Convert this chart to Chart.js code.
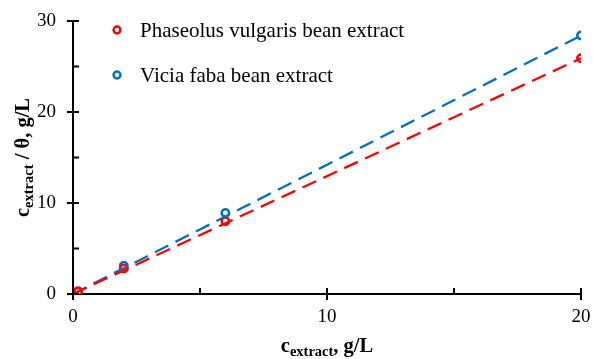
<!DOCTYPE html>
<html lang="en">
<head>
<meta charset="UTF-8">
<title>Sorption isotherm</title>
<script src="https://cdn.jsdelivr.net/npm/chart.js"></script>
<style>
  body { margin: 0; background: #fff; }
  #wrap { width: 593px; height: 359px; position: relative; }
</style>
</head>
<body>
<div id="wrap"><canvas id="myChart"></canvas></div>
<script>
// values
const concX = [0.05, 0.2, 2, 6, 20];
const phaseolusY = [0.05, 0.26, 2.8, 8.0, 25.9];
const viciaY = [0.05, 0.32, 3.1, 8.9, 28.4];
const fitX = [0, 20];
const phaseolusFit = [0, 25.9];
const viciaFit = [0, 28.4];
const xTicks = [0, 10, 20];
const yTicks = [0, 10, 20, 30];
const xMinor = [5, 15];
const yMinor = [5, 15, 25];
const seriesNames = ['Phaseolus vulgaris bean extract', 'Vicia faba bean extract'];

const RED = '#ff0000';
const BLUE = '#0070c0';
const serif = '"Liberation Serif", "Times New Roman", serif';

function pts(xs, ys) {
  return xs.map((x, i) => ({ x: x, y: ys[i] }));
}

// tick marks: majors cross the axis, minors point inward
const tickPlugin = {
  id: 'ticks',
  afterDraw(chart) {
    const ctx = chart.ctx;
    const xs = chart.scales.x, ys = chart.scales.y;
    const x0 = xs.getPixelForValue(0), y0 = ys.getPixelForValue(0);
    ctx.save();
    ctx.strokeStyle = '#000';
    ctx.lineWidth = 2;
    ctx.beginPath();
    yTicks.forEach(v => { const p = ys.getPixelForValue(v); ctx.moveTo(x0 - 6, p); ctx.lineTo(x0 + 6, p); });
    yMinor.forEach(v => { const p = ys.getPixelForValue(v); ctx.moveTo(x0, p); ctx.lineTo(x0 + 6, p); });
    xTicks.forEach(v => { const p = xs.getPixelForValue(v); ctx.moveTo(p, y0 - 6); ctx.lineTo(p, y0 + 6); });
    xMinor.forEach(v => { const p = xs.getPixelForValue(v); ctx.moveTo(p, y0); ctx.lineTo(p, y0 - 6); });
    ctx.stroke();
    ctx.restore();
  }
};

// text with a subscript, drawn from left
function subText(ctx, parts, x, y) {
  let cx = x;
  parts.forEach(p => {
    ctx.font = p.font;
    ctx.fillText(p.t, cx, y + (p.dy || 0));
    cx += ctx.measureText(p.t).width;
  });
}
function subWidth(ctx, parts) {
  let w = 0;
  parts.forEach(p => { ctx.font = p.font; w += ctx.measureText(p.t).width; });
  return w;
}

const titlePlugin = {
  id: 'titles',
  afterDraw(chart) {
    const ctx = chart.ctx;
    const a = chart.chartArea;
    const big = 'bold 20.5px ' + serif, small = 'bold 14.5px ' + serif;
    ctx.save();
    ctx.fillStyle = '#000';
    ctx.textBaseline = 'alphabetic';
    const xt = [{ t: 'c', font: big }, { t: 'extract', font: small, dy: 4 }, { t: ', g/L', font: big }];
    const wx = subWidth(ctx, xt);
    subText(ctx, xt, (a.left + a.right) / 2 - wx / 2, 352);
    const yt = [{ t: 'c', font: big }, { t: 'extract', font: small, dy: 4 }, { t: ' / θ, g/L', font: big }];
    const wy = subWidth(ctx, yt);
    ctx.translate(29, (a.top + a.bottom) / 2);
    ctx.rotate(-Math.PI / 2);
    subText(ctx, yt, -wy / 2, 0);
    ctx.restore();

    // legend
    ctx.save();
    ctx.font = '21px ' + serif;
    ctx.textBaseline = 'middle';
    ctx.fillStyle = '#000';
    const cols = [RED, BLUE];
    seriesNames.forEach((n, i) => {
      const yy = 30 + i * 45;
      ctx.beginPath();
      ctx.arc(117, yy, 3.4, 0, Math.PI * 2);
      ctx.lineWidth = 2.5;
      ctx.strokeStyle = cols[i];
      ctx.stroke();
      ctx.fillText(n, 140, yy + 1);
    });
    ctx.restore();
  }
};

new Chart(document.getElementById('myChart'), {
  type: 'scatter',
  data: {
    datasets: [
      { label: seriesNames[0] + ' fit', data: pts(fitX, phaseolusFit), showLine: true, borderColor: RED, borderWidth: 2.3, borderDash: [15, 8], pointRadius: 0, fill: false },
      { label: seriesNames[1] + ' fit', data: pts(fitX, viciaFit), showLine: true, borderColor: BLUE, borderWidth: 2.3, borderDash: [15, 8], pointRadius: 0, fill: false },
      { label: seriesNames[0], data: pts(concX, phaseolusY), showLine: false, borderColor: RED, backgroundColor: '#fff', pointRadius: 3.7, pointBorderWidth: 2.5 },
      { label: seriesNames[1], data: pts(concX, viciaY), showLine: false, borderColor: BLUE, backgroundColor: '#fff', pointRadius: 3.7, pointBorderWidth: 2.5 }
    ]
  },
  options: {
    responsive: true,
    maintainAspectRatio: false,
    animation: false,
    layout: { padding: { top: 21, right: 12, left: 0, bottom: 0 } },
    plugins: { legend: { display: false }, tooltip: { enabled: false } },
    scales: {
      x: {
        type: 'linear', min: 0, max: 20,
        afterBuildTicks: s => { s.ticks = xTicks.map(v => ({ value: v })); },
        afterFit: s => { s.height = 65; s.paddingLeft = 0; s.paddingRight = 0; },
        grid: { display: false, drawTicks: false },
        border: { display: true, color: '#000', width: 2 },
        ticks: { color: '#000', font: { family: serif, size: 19 }, padding: 12 }
      },
      y: {
        type: 'linear', min: 0, max: 30,
        afterBuildTicks: s => { s.ticks = yTicks.map(v => ({ value: v })); },
        afterFit: s => { s.width = 73; s.paddingTop = 0; s.paddingBottom = 0; },
        grid: { display: false, drawTicks: false },
        border: { display: true, color: '#000', width: 2 },
        ticks: { color: '#000', font: { family: serif, size: 19 }, padding: 17 }
      }
    }
  },
  plugins: [tickPlugin, titlePlugin]
});
</script>
</body>
</html>
